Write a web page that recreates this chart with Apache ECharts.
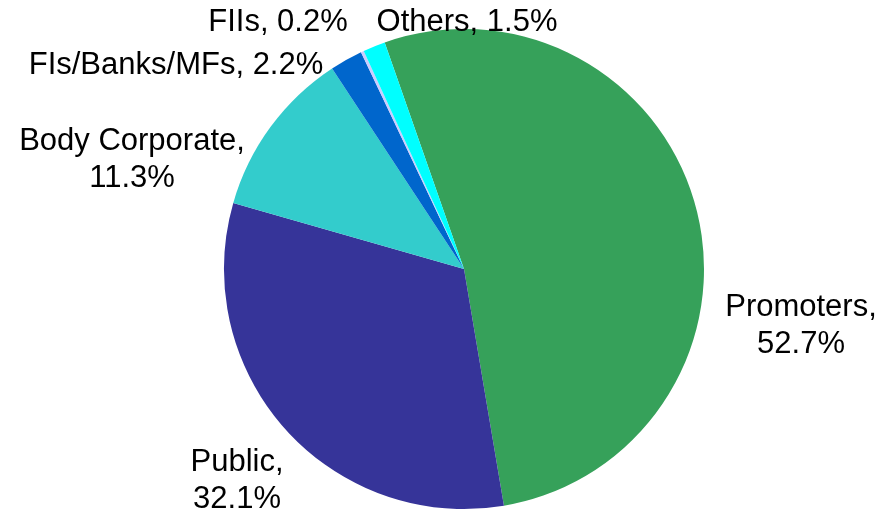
<!DOCTYPE html>
<html>
<head>
<meta charset="utf-8">
<script src="https://cdn.jsdelivr.net/npm/echarts@6/dist/echarts.min.js"></script>
<style>
  html, body { margin: 0; padding: 0; background: #fff; }
  #main { width: 881px; height: 515px; }
</style>
</head>
<body>
<div id="main"></div>
<script>
// shareholding pattern, in % (clockwise from the top)
var categories = ["Promoters", "Public", "Body Corporate", "FIs/Banks/MFs", "FIIs", "Others"];
var shares = [52.7, 32.1, 11.3, 2.2, 0.2, 1.5];
var sliceColors = ["#36A15A", "#363499", "#33CCCC", "#0066CC", "#CCCCFF", "#00FFFF"];
// labels that go on two lines
var wrapLabel = [true, true, true, false, false, false];
// where each label sits (text centre), like the original layout
var labelPos = [[801, 326], [237, 481], [132, 160], [176, 65], [278, 22], [467, 22]];

var myChart = echarts.init(document.getElementById("main"));

var option = {
  animation: false,
  series: [
    {
      type: "pie",
      center: [464, 269],
      radius: 240,
      startAngle: 109.3,
      clockwise: true,
      avoidLabelOverlap: false,
      data: categories.map(function (name, i) {
        return { name: name, value: shares[i], itemStyle: { color: sliceColors[i] } };
      }),
      label: {
        show: true,
        position: "outside",
        color: "#000",
        fontFamily: "Liberation Sans, Arial, sans-serif",
        fontSize: 31,
        lineHeight: 37,
        formatter: function (p) {
          var sep = wrapLabel[p.dataIndex] ? ",\n" : ", ";
          return p.name + sep + p.value.toFixed(1) + "%";
        }
      },
      labelLine: { show: false },
      labelLayout: function (params) {
        var pos = labelPos[params.dataIndex];
        return { x: pos[0], y: pos[1], align: "center", verticalAlign: "middle" };
      },
      emphasis: { disabled: true }
    }
  ]
};

myChart.setOption(option);
</script>
</body>
</html>
